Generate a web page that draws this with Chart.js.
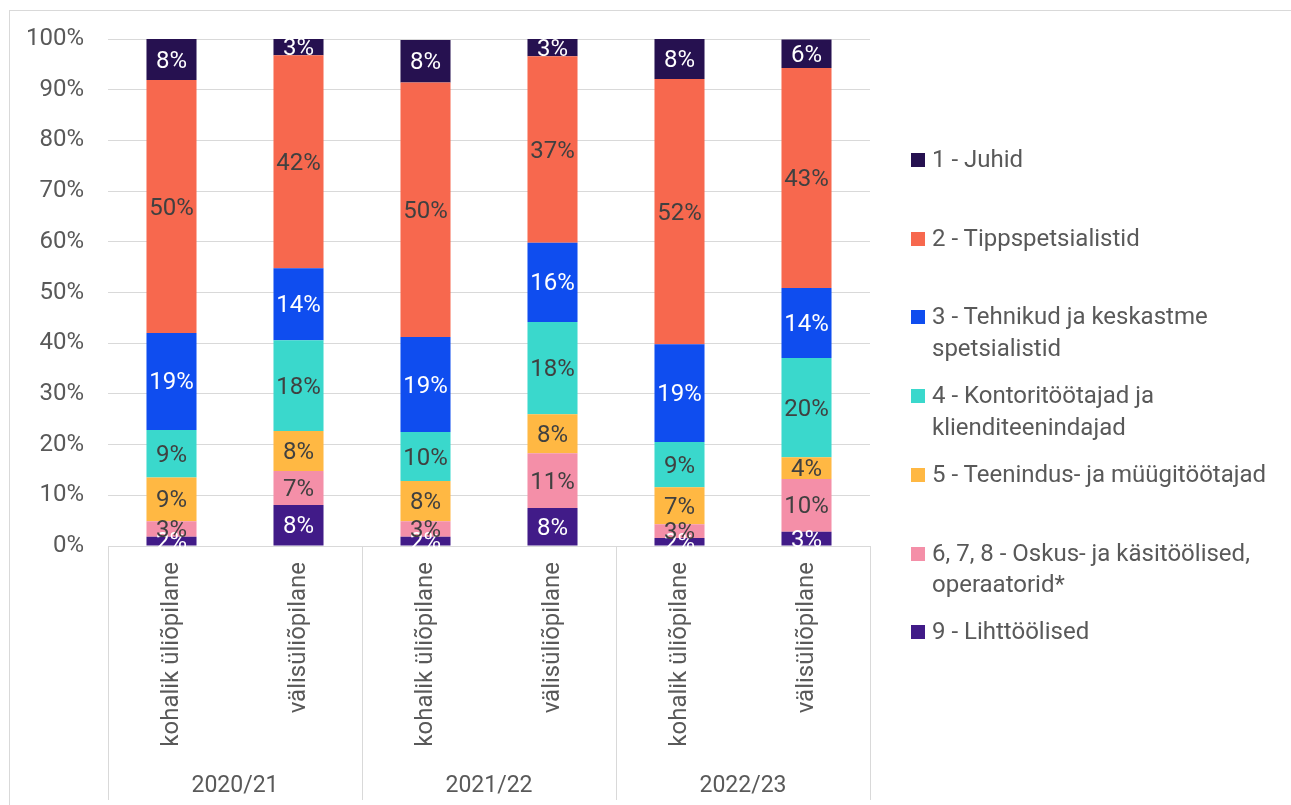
<!DOCTYPE html>
<html>
<head>
<meta charset="utf-8">
<script src="https://cdn.jsdelivr.net/npm/chart.js@4.4.1/dist/chart.umd.min.js"></script>
<style>
  body { margin: 0; background: #fff; font-family: Roboto, "Noto Sans", sans-serif; }
  #wrap { position: relative; width: 1291px; height: 805px; overflow: hidden; }
  #frame { position: absolute; left: 9px; top: 10px; width: 2000px; height: 2000px;
           border-top: 1px solid #d9d9d9; border-left: 1px solid #d9d9d9; }
  canvas { position: absolute; left: 0; top: 0; }
  .leg { position: absolute; left: 911px; width: 370px; font-size: 24px; line-height: 31.5px; color: #595959; }
  .leg .box { position: absolute; left: 0; top: 9px; width: 14px; height: 14px; }
  .leg .txt { margin-left: 21px; display: block; }
</style>
</head>
<body>
<div id="wrap">
  <div id="frame"></div>
  <canvas id="chart" width="1291" height="805"></canvas>
  <div id="legend"></div>
</div>
<script>
const categories = ["kohalik üliõpilane", "välisüliõpilane", "kohalik üliõpilane", "välisüliõpilane", "kohalik üliõpilane", "välisüliõpilane"];
const groups = ["2020/21", "2021/22", "2022/23"];
const yTicks = [0, 10, 20, 30, 40, 50, 60, 70, 80, 90, 100];

// shares in %, bar order as in categories
const juhid = [8.1, 3.2, 8.4, 3.4, 7.9, 5.6];
const tippspetsialistid = [49.9, 42.0, 50.2, 36.8, 52.3, 43.4];
const tehnikud = [19.1, 14.2, 18.7, 15.6, 19.3, 13.8];
const kontoritootajad = [9.4, 17.9, 9.7, 18.2, 8.9, 19.6];
const teenindus = [8.6, 7.9, 7.9, 7.7, 7.3, 4.3];
const oskus = [3.1, 6.7, 3.1, 10.8, 2.7, 10.4];
const lihttoolised = [1.8, 8.1, 1.8, 7.5, 1.6, 2.8];

const seriesNames = [
  "1 - Juhid",
  "2 - Tippspetsialistid",
  "3 - Tehnikud ja keskastme spetsialistid",
  "4 - Kontoritöötajad ja klienditeenindajad",
  "5 - Teenindus- ja müügitöötajad",
  "6, 7, 8 - Oskus- ja käsitöölised, operaatorid*",
  "9 - Lihttöölised"
];
const seriesData = [juhid, tippspetsialistid, tehnikud, kontoritootajad, teenindus, oskus, lihttoolised];
const seriesColors = ["#261150", "#F7684E", "#0F4DEF", "#3AD8CC", "#FFB843", "#F48FA8", "#411B88"];
const labelColors = ["#ffffff", "#404040", "#ffffff", "#404040", "#404040", "#404040", "#ffffff"];

const FONT = "Roboto, 'Noto Sans', sans-serif";

// stack bottom-up: 9 first, 1 last
const datasets = [];
for (let i = seriesNames.length - 1; i >= 0; i--) {
  datasets.push({
    label: seriesNames[i],
    data: seriesData[i],
    backgroundColor: seriesColors[i],
    borderWidth: 0,
    barPercentage: 0.394,
    categoryPercentage: 1,
    labelColor: labelColors[i]
  });
}

const valueLabels = {
  id: "valueLabels",
  afterDatasetsDraw(chart) {
    const ctx = chart.ctx;
    ctx.save();
    ctx.font = "24px " + FONT;
    ctx.textAlign = "center";
    ctx.textBaseline = "middle";
    chart.data.datasets.forEach((ds, di) => {
      const meta = chart.getDatasetMeta(di);
      meta.data.forEach((bar, j) => {
        const v = ds.data[j];
        ctx.fillStyle = ds.labelColor;
        ctx.fillText(Math.round(v) + "%", bar.x, (bar.y + bar.base) / 2 + 2);
      });
    });
    ctx.restore();
  }
};

const groupLines = {
  id: "groupLines",
  afterDraw(chart) {
    const x = chart.scales.x;
    const ctx = chart.ctx;
    const step = x.getPixelForValue(1) - x.getPixelForValue(0);
    const per = categories.length / groups.length;
    ctx.save();
    ctx.strokeStyle = "#d9d9d9";
    ctx.lineWidth = 1;
    for (let g = 0; g <= groups.length; g++) {
      const px = Math.round(x.getPixelForValue(0) - step / 2 + g * per * step) + 0.5;
      ctx.beginPath();
      ctx.moveTo(px, chart.chartArea.bottom);
      ctx.lineTo(px, chart.height - 5);
      ctx.stroke();
    }
    ctx.restore();
  }
};

new Chart(document.getElementById("chart"), {
  type: "bar",
  data: { labels: categories, datasets: datasets },
  options: {
    responsive: false,
    animation: false,
    devicePixelRatio: 1,
    layout: { padding: { top: 39, right: 421, left: 0, bottom: 0 } },
    plugins: { legend: { display: false }, tooltip: { enabled: false } },
    scales: {
      y: {
        stacked: true,
        min: 0,
        max: 100,
        afterBuildTicks(scale) { scale.ticks = yTicks.map(v => ({ value: v })); },
        afterFit(scale) { scale.width = 108; },
        ticks: {
          padding: 24,
          color: "#595959",
          font: { family: FONT, size: 24 },
          callback: v => v + "%"
        },
        grid: { color: "#d9d9d9", lineWidth: 1, drawTicks: false },
        border: { display: false }
      },
      x: {
        stacked: true,
        afterFit(scale) { scale.height = 212; },
        ticks: {
          maxRotation: 90,
          minRotation: 90,
          padding: 8,
          color: "#595959",
          font: { family: FONT, size: 24 }
        },
        grid: { display: false },
        border: { display: false }
      },
      x2: {
        type: "category",
        labels: groups,
        position: "bottom",
        offset: true,
        afterFit(scale) { scale.height = 47; },
        ticks: {
          padding: 6,
          color: "#595959",
          font: { family: FONT, size: 23 }
        },
        grid: { display: false },
        border: { display: false }
      }
    }
  },
  plugins: [valueLabels, groupLines]
});

// legend, top to bottom in series order
const legend = document.getElementById("legend");
seriesNames.forEach((name, i) => {
  const item = document.createElement("div");
  item.className = "leg";
  item.style.top = (144 + i * 78.7) + "px";
  const box = document.createElement("span");
  box.className = "box";
  box.style.background = seriesColors[i];
  const txt = document.createElement("span");
  txt.className = "txt";
  txt.textContent = name;
  item.appendChild(box);
  item.appendChild(txt);
  legend.appendChild(item);
});
</script>
</body>
</html>
